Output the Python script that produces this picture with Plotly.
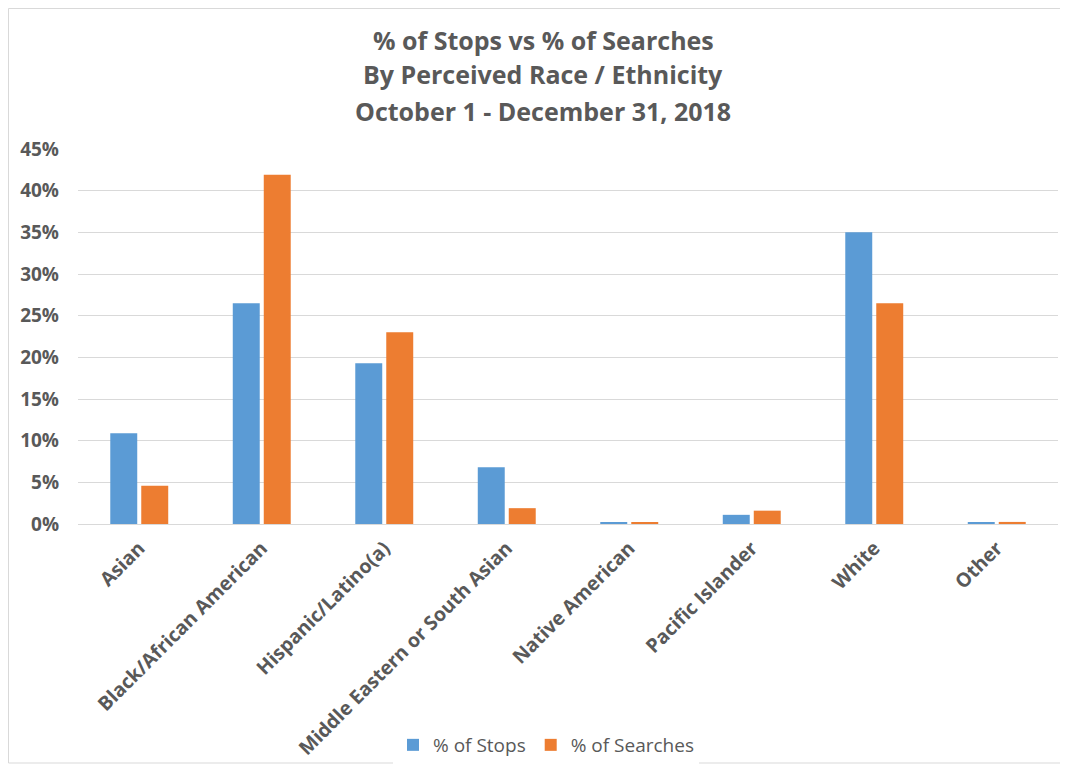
import plotly.graph_objects as go

categories = ["Asian", "Black/African American", "Hispanic/Latino(a)",
              "Middle Eastern or South Asian", "Native American",
              "Pacific Islander", "White", "Other"]
stops = [0.109, 0.265, 0.193, 0.068, 0.0015, 0.011, 0.350, 0.002]
searches = [0.046, 0.419, 0.230, 0.019, 0.0015, 0.016, 0.265, 0.0025]
tick_vals = [0, 0.05, 0.10, 0.15, 0.20, 0.25, 0.30, 0.35, 0.40, 0.45]
tick_text = ["0%", "5%", "10%", "15%", "20%", "25%", "30%", "35%", "40%", "45%"]
title_lines = ["% of Stops vs % of Searches", "By Perceived Race / Ethnicity",
               "October 1 - December 31, 2018"]

TXT = "#595959"
FONT = "Open Sans"

fig = go.Figure()
fig.add_trace(go.Bar(x=categories, y=stops, name="% of Stops",
                     marker=dict(color="#5B9BD5", line=dict(width=0))))
fig.add_trace(go.Bar(x=categories, y=searches, name="% of Searches",
                     marker=dict(color="#ED7D31", line=dict(width=0))))

# page is offset by the default 8px body margin
OFF = 8
W, H = 1068 - OFF, 768 - OFF
L, R, T, B = 78 - OFF, 10, 149 - OFF, 244
pw, ph = W - L - R, H - T - B

def py(p):  # page y -> paper y
    return (H - B - (p - OFF)) / ph

def px(p):  # page x -> paper x
    return ((p - OFF) - L) / pw

ann = []
for line, yc in zip(title_lines, [40, 74, 111]):
    ann.append(dict(text="<b>" + line + "</b>", x=px(543), y=py(yc),
                    xref="paper", yref="paper", xanchor="center", yanchor="middle",
                    showarrow=False, font=dict(family=FONT, size=25, color=TXT)))

fig.update_layout(
    width=W, height=H,
    margin=dict(l=L, r=R, t=T, b=B, autoexpand=False),
    paper_bgcolor="white", plot_bgcolor="white",
    barmode="group", bargap=0.494, bargroupgap=0.13,
    annotations=ann,
    showlegend=True,
    legend=dict(orientation="h", x=px(546), xanchor="center",
                y=py(745), yanchor="middle",
                font=dict(family=FONT, size=19, color=TXT),
                itemwidth=30, traceorder="normal"),
    shapes=[dict(type="rect", xref="paper", yref="paper",
                 x0=px(8.5), x1=px(1063), y0=py(763), y1=py(8.5),
                 line=dict(color="#D9D9D9", width=1), fillcolor="rgba(0,0,0,0)",
                 layer="below")],
    xaxis=dict(showgrid=False, zeroline=False, showline=False, ticks="",
               tickangle=-45, automargin=False, ticklabelstandoff=8,
               tickfont=dict(family=FONT, size=19.5, color=TXT, weight="bold")),
    yaxis=dict(range=[0, 0.45], tickvals=tick_vals, ticktext=tick_text,
               showgrid=True, gridcolor="#D9D9D9", gridwidth=1,
               zeroline=True, zerolinecolor="#D9D9D9", zerolinewidth=1,
               showline=False, ticks="", automargin=False,
               ticklabelstandoff=18,
               tickfont=dict(family=FONT, size=19, color=TXT, weight="bold")),
    font=dict(family=FONT, color=TXT),
)

fig.write_html("out.html")
